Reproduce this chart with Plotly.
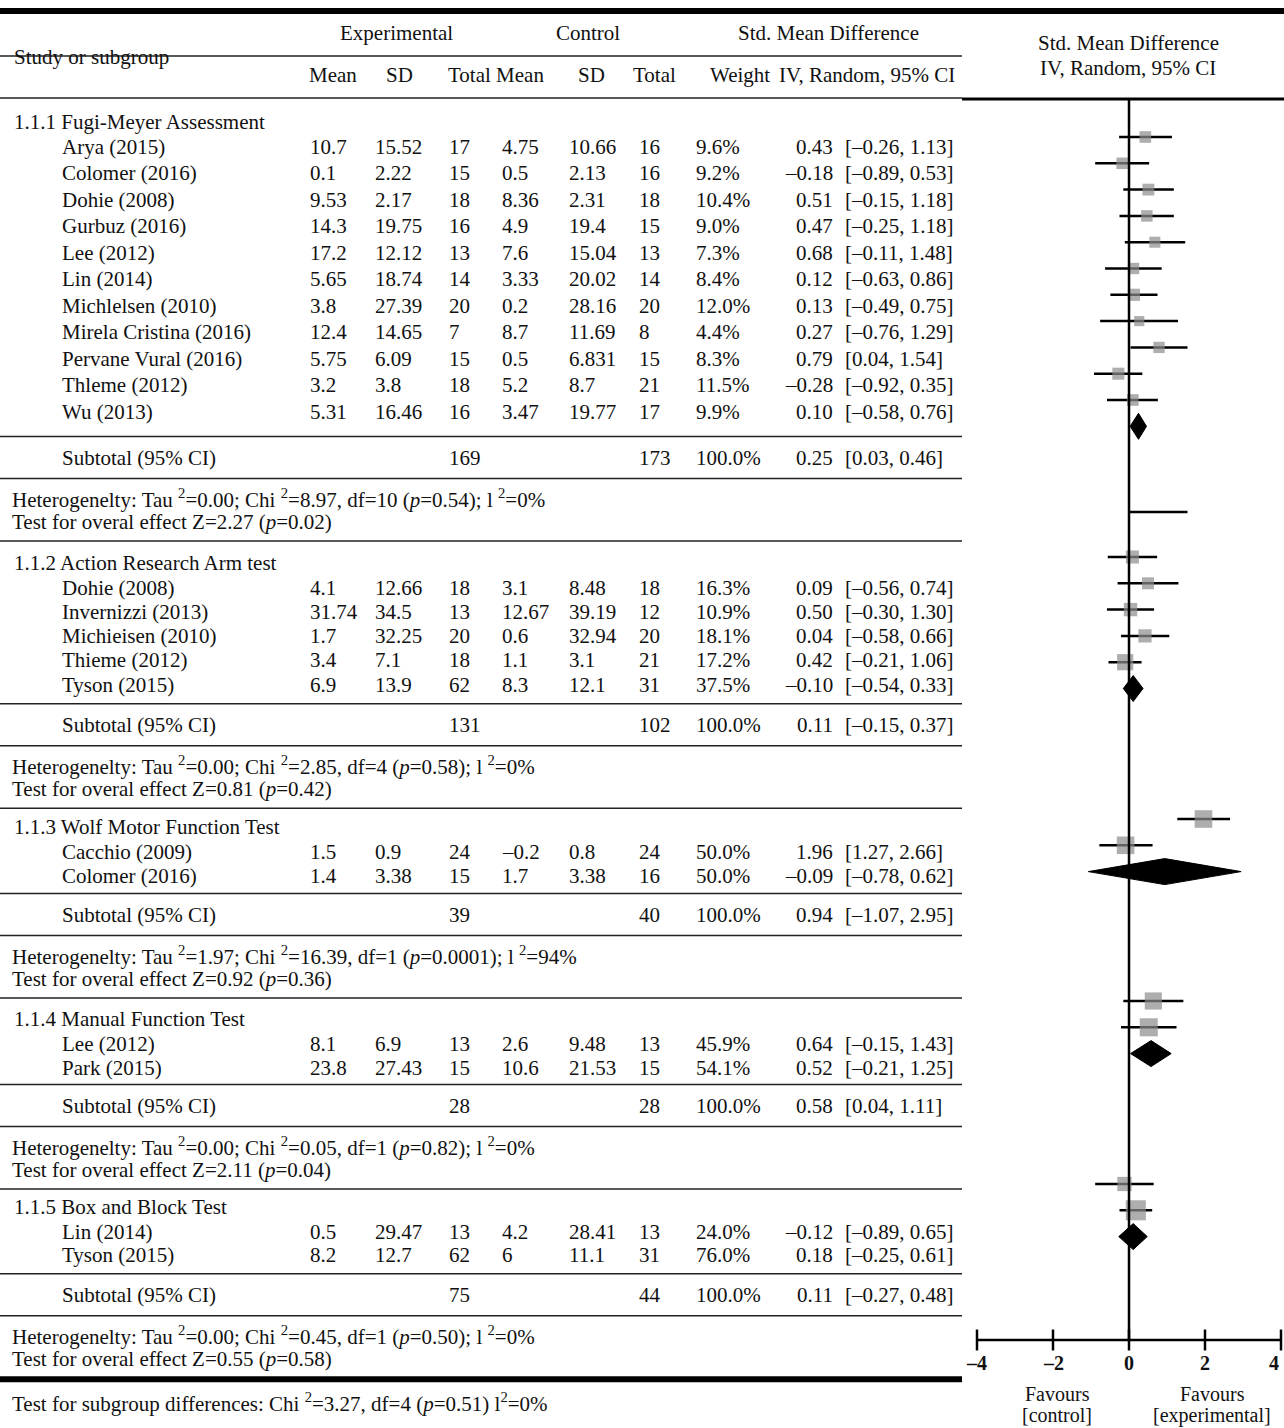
import math
import plotly.graph_objects as go

W, H = 1284, 1428
FONT = "Liberation Serif"
TXT = "#111111"

# ---------------- data ----------------
group_titles = [
    "1.1.1 Fugi-Meyer Assessment",
    "1.1.2 Action Research Arm test",
    "1.1.3 Wolf Motor Function Test",
    "1.1.4 Manual Function Test",
    "1.1.5 Box and Block Test",
]
study_names = [
    ["Arya (2015)", "Colomer (2016)", "Dohie (2008)", "Gurbuz (2016)", "Lee (2012)",
     "Lin (2014)", "Michlelsen (2010)", "Mirela Cristina (2016)", "Pervane Vural (2016)",
     "Thleme (2012)", "Wu (2013)"],
    ["Dohie (2008)", "Invernizzi (2013)", "Michieisen (2010)", "Thieme (2012)", "Tyson (2015)"],
    ["Cacchio (2009)", "Colomer (2016)"],
    ["Lee (2012)", "Park (2015)"],
    ["Lin (2014)", "Tyson (2015)"],
]
exp_mean = [[10.7, 0.1, 9.53, 14.3, 17.2, 5.65, 3.8, 12.4, 5.75, 3.2, 5.31],
            [4.1, 31.74, 1.7, 3.4, 6.9], [1.5, 1.4], [8.1, 23.8], [0.5, 8.2]]
exp_sd = [[15.52, 2.22, 2.17, 19.75, 12.12, 18.74, 27.39, 14.65, 6.09, 3.8, 16.46],
          [12.66, 34.5, 32.25, 7.1, 13.9], [0.9, 3.38], [6.9, 27.43], [29.47, 12.7]]
exp_n = [[17, 15, 18, 16, 13, 14, 20, 7, 15, 18, 16],
         [18, 13, 20, 18, 62], [24, 15], [13, 15], [13, 62]]
ctl_mean = [[4.75, 0.5, 8.36, 4.9, 7.6, 3.33, 0.2, 8.7, 0.5, 5.2, 3.47],
            [3.1, 12.67, 0.6, 1.1, 8.3], [-0.2, 1.7], [2.6, 10.6], [4.2, 6]]
ctl_sd = [[10.66, 2.13, 2.31, 19.4, 15.04, 20.02, 28.16, 11.69, 6.831, 8.7, 19.77],
          [8.48, 39.19, 32.94, 3.1, 12.1], [0.8, 3.38], [9.48, 21.53], [28.41, 11.1]]
ctl_n = [[16, 16, 18, 15, 13, 14, 20, 8, 15, 21, 17],
         [18, 12, 20, 21, 31], [24, 16], [13, 15], [13, 31]]
weight = [[9.6, 9.2, 10.4, 9.0, 7.3, 8.4, 12.0, 4.4, 8.3, 11.5, 9.9],
          [16.3, 10.9, 18.1, 17.2, 37.5], [50.0, 50.0], [45.9, 54.1], [24.0, 76.0]]
smd = [[0.43, -0.18, 0.51, 0.47, 0.68, 0.12, 0.13, 0.27, 0.79, -0.28, 0.10],
       [0.09, 0.50, 0.04, 0.42, -0.10], [1.96, -0.09], [0.64, 0.52], [-0.12, 0.18]]
ci_low = [[-0.26, -0.89, -0.15, -0.25, -0.11, -0.63, -0.49, -0.76, 0.04, -0.92, -0.58],
          [-0.56, -0.30, -0.58, -0.21, -0.54], [1.27, -0.78], [-0.15, -0.21], [-0.89, -0.25]]
ci_high = [[1.13, 0.53, 1.18, 1.18, 1.48, 0.86, 0.75, 1.29, 1.54, 0.35, 0.76],
           [0.74, 1.30, 0.66, 1.06, 0.33], [2.66, 0.62], [1.43, 1.25], [0.65, 0.61]]

sub_exp_n = [169, 131, 39, 28, 75]
sub_ctl_n = [173, 102, 40, 28, 44]
sub_smd = [0.25, 0.11, 0.94, 0.58, 0.11]
sub_low = [0.03, -0.15, -1.07, 0.04, -0.27]
sub_high = [0.46, 0.37, 2.95, 1.11, 0.48]

tau2 = ["0.00", "0.00", "1.97", "0.00", "0.00"]
chi2 = ["8.97", "2.85", "16.39", "0.05", "0.45"]
het_df = [10, 4, 1, 1, 1]
het_p = ["0.54", "0.58", "0.0001", "0.82", "0.50"]
i2 = [0, 0, 94, 0, 0]
z_val = ["2.27", "0.81", "0.92", "2.11", "0.55"]
z_p = ["0.02", "0.42", "0.36", "0.04", "0.58"]

subgroup_chi2 = "3.27"
subgroup_df = 4
subgroup_p = "0.51"
subgroup_i2 = 0

# stray whisker segment drawn between the first two panels
stray_segment = [0.0, 1.54]

axis_ticks = [-4, -2, 0, 2, 4]
axis_range = [-4, 4]

# ---------------- layout constants (pixels) ----------------
TABLE_RIGHT = 962
COL = dict(name=60, group=12, em=308, esd=373, en=447, cm=500, csd=567, cn=637,
           wt=694, est=835, ci=843)
TABLE_TOP = [122, 563, 827, 1019, 1207]
TABLE_STEP = [26.5, 24.3, 24.0, 24.0, 23.3]
TABLE_GAP = [25, 19, 18, 17, 19]
PLOT_TOP = [137, 557, 819, 1001, 1184]
PLOT_STEP = 26.3
AXIS_Y = 1340
ZERO_TOP = 100
STRAY_Y = 512


def num(v):
    s = repr(v) if isinstance(v, float) else str(v)
    return s.replace("-", "–")


def f2(v):
    return f"{v:.2f}".replace("-", "–")


fig = go.Figure()


def text(x, y, s, anchor="left", size=21, color=TXT, xref="paper", bold=False):
    if bold:
        s = f"<b>{s}</b>"
    fig.add_annotation(x=x / W if xref == "paper" else x, y=y, xref=xref, yref="y",
                       text=s, showarrow=False, xanchor=anchor, yanchor="middle",
                       font=dict(family=FONT, size=size, color=color))


def hline(y, x0=0, x1=TABLE_RIGHT, width=1.5, color="#222222"):
    fig.add_shape(type="line", xref="paper", yref="y", x0=x0 / W, x1=x1 / W,
                  y0=y, y1=y, line=dict(color=color, width=width))


# ---------------- header ----------------
hline(11, 0, W, width=6, color="#000000")
text(396, 33, "Experimental", anchor="center")
text(588, 33, "Control", anchor="center")
text(828, 33, "Std. Mean Difference", anchor="center")
text(12, 57, "Study or subgroup")
hline(56)
for x, lab in [(333, "Mean"), (399, "SD"), (496, "Total Mean"), (591, "SD"),
               (654, "Total"), (740, "Weight"), (867, "IV, Random, 95% CI")]:
    text(x, 75, lab, anchor="center")
hline(98)
hline(99, TABLE_RIGHT, W, width=3, color="#000000")
text(1128, 43, "Std. Mean Difference", anchor="center")
text(1128, 68, "IV, Random, 95% CI", anchor="center")

# ---------------- table body ----------------
for g, title in enumerate(group_titles):
    step = TABLE_STEP[g]
    y0 = TABLE_TOP[g]
    text(COL["group"], y0, title)
    ys = [y0 + 24.5 + i * step for i in range(len(study_names[g]))]
    for i, y in enumerate(ys):
        text(COL["name"], y, study_names[g][i])
        text(COL["em"], y, num(exp_mean[g][i]))
        text(COL["esd"], y, num(exp_sd[g][i]))
        text(COL["en"], y, num(exp_n[g][i]))
        text(COL["cm"], y, num(ctl_mean[g][i]))
        text(COL["csd"], y, num(ctl_sd[g][i]))
        text(COL["cn"], y, num(ctl_n[g][i]))
        text(COL["wt"], y, f"{weight[g][i]:.1f}%")
        text(COL["est"], y, f2(smd[g][i]), anchor="right")
        text(COL["ci"], y, f"[{f2(ci_low[g][i])}, {f2(ci_high[g][i])}]")
    y_line1 = ys[-1] + TABLE_GAP[g]
    y_sub = y_line1 + 21
    hline(y_line1)
    text(COL["name"], y_sub, "Subtotal (95% CI)")
    text(COL["en"], y_sub, str(sub_exp_n[g]))
    text(COL["cn"], y_sub, str(sub_ctl_n[g]))
    text(COL["wt"], y_sub, "100.0%")
    text(COL["est"], y_sub, f2(sub_smd[g]), anchor="right")
    text(COL["ci"], y_sub, f"[{f2(sub_low[g])}, {f2(sub_high[g])}]")
    y_line2 = y_sub + 21
    hline(y_line2)
    y_het = y_line2 + 19.5
    text(10, y_het,
         f"Heterogenelty: Tau <sup>2</sup>={tau2[g]}; Chi <sup>2</sup>={chi2[g]}, "
         f"df={het_df[g]} (<i>p</i>={het_p[g]}); l <sup>2</sup>={i2[g]}%")
    text(10, y_het + 24, f"Test for overal effect Z={z_val[g]} (<i>p</i>={z_p[g]})")
    y_line3 = y_het + 43
    if g < len(group_titles) - 1:
        hline(y_line3)
    else:
        hline(y_line3 + 1, width=6, color="#000000")
        text(10, y_line3 + 24,
             f"Test for subgroup differences: Chi <sup>2</sup>={subgroup_chi2}, df={subgroup_df} "
             f"(<i>p</i>={subgroup_p}) l<sup>2</sup>={subgroup_i2}%")

# ---------------- forest plot ----------------
# zero line
fig.add_shape(type="line", xref="x", yref="y", x0=0, x1=0, y0=ZERO_TOP, y1=AXIS_Y,
              line=dict(color="#000000", width=2.5))

wx, wy, sx, sy, ss = [], [], [], [], []
for g in range(len(group_titles)):
    for i in range(len(smd[g])):
        y = PLOT_TOP[g] + i * PLOT_STEP
        wx += [ci_low[g][i], ci_high[g][i], None]
        wy += [y, y, None]
        sx.append(smd[g][i])
        sy.append(y)
        ss.append(7 + 1.5 * math.sqrt(weight[g][i]))

wx += [stray_segment[0], stray_segment[1], None]
wy += [STRAY_Y, STRAY_Y, None]

fig.add_trace(go.Scatter(x=wx, y=wy, mode="lines", line=dict(color="#000000", width=2.5),
                         hoverinfo="skip", cliponaxis=False))
fig.add_trace(go.Scatter(x=sx, y=sy, mode="markers",
                         marker=dict(symbol="square", size=ss, color="#8c8c8c",
                                     line=dict(width=0)),
                         hoverinfo="skip", cliponaxis=False))

for g in range(len(group_titles)):
    yc = PLOT_TOP[g] + len(smd[g]) * PLOT_STEP
    h = 13
    fig.add_trace(go.Scatter(
        x=[sub_low[g], sub_smd[g], sub_high[g], sub_smd[g], sub_low[g]],
        y=[yc, yc - h, yc, yc + h, yc],
        mode="lines", fill="toself", fillcolor="#000000",
        line=dict(color="#000000", width=1), hoverinfo="skip", cliponaxis=False))

# bottom axis
fig.add_trace(go.Scatter(x=axis_range, y=[AXIS_Y, AXIS_Y], mode="lines",
                         line=dict(color="#000000", width=2.5), hoverinfo="skip",
                         cliponaxis=False))
fig.add_trace(go.Scatter(x=axis_ticks, y=[AXIS_Y] * len(axis_ticks), mode="markers",
                         marker=dict(symbol="line-ns", size=15,
                                     line=dict(color="#000000", width=2.5)),
                         hoverinfo="skip", cliponaxis=False))
for t in axis_ticks:
    if t == axis_range[1]:
        anchor = "right"
    else:
        anchor = "center"
    text(t, AXIS_Y + 23, str(t).replace("-", "–"), anchor=anchor, size=20,
         xref="x", bold=True)

text(1057, 1394, "Favours", anchor="center", size=20)
text(1057, 1415, "[control]", anchor="center", size=20)
text(1212, 1394, "Favours", anchor="center", size=20)
text(1212, 1415, "[experimental]", anchor="center", size=20)

fig.update_layout(
    width=W, height=H, autosize=False,
    margin=dict(l=0, r=0, t=0, b=0, pad=0),
    paper_bgcolor="#ffffff", plot_bgcolor="rgba(0,0,0,0)",
    showlegend=False,
    xaxis=dict(domain=[977 / W, 1281 / W], range=axis_range, visible=False,
               fixedrange=True),
    yaxis=dict(domain=[0, 1], range=[H, 0], visible=False, fixedrange=True),
)

fig.write_html("out.html", config=dict(displayModeBar=False))
